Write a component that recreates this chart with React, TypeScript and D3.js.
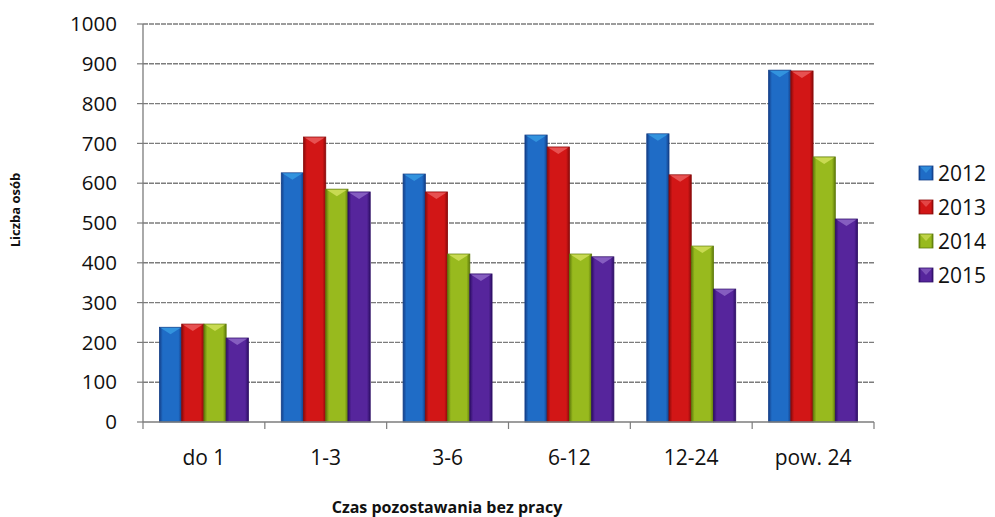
import React from "react";
import * as d3 from "d3";

const categories = ["do 1", "1-3", "3-6", "6-12", "12-24", "pow. 24"];
const seriesNames = ["2012", "2013", "2014", "2015"];
const s2012 = [238, 626, 623, 721, 724, 884];
const s2013 = [246, 716, 578, 691, 621, 882];
const s2014 = [246, 585, 422, 422, 442, 666];
const s2015 = [211, 578, 372, 415, 334, 510];
const yTicks = [0, 100, 200, 300, 400, 500, 600, 700, 800, 900, 1000];

const seriesValues = [s2012, s2013, s2014, s2015];
const baseColors = ["#1f6cc6", "#d21616", "#98ba1e", "#56259c"];
const lightColors = ["#3aa0e6", "#ee6666", "#d8e464", "#9670cc"];
const darkColors = ["#143f88", "#8a0a0a", "#5e7a0a", "#2e0f66"];

const W = 995;
const H = 517;
const left = 143;
const right = 874;
const top = 24;
const bottom = 422;
const FONT = "'Open Sans', 'DejaVu Sans', sans-serif";

export default function App() {
  const x0 = d3.scaleBand<string>().domain(categories).range([left, right]).paddingInner(0.27).paddingOuter(0.135);
  const x1 = d3.scaleBand<string>().domain(seriesNames).range([0, x0.bandwidth()]).padding(0);
  const y = d3.scaleLinear().domain([0, 1000]).range([bottom, top]);
  const step = x0.step();

  return (
    <svg width={W} height={H} style={{ position: "absolute", left: 0, top: 0, background: "#fff" }} fontFamily={FONT}>
      <defs>
        {seriesNames.map((s, i) => (
          <linearGradient key={s} id={`g${i}`} x1="0" x2="1" y1="0" y2="0">
            <stop offset="0" stopColor={darkColors[i]} />
            <stop offset="0.15" stopColor={baseColors[i]} />
            <stop offset="0.5" stopColor={baseColors[i]} />
            <stop offset="0.85" stopColor={baseColors[i]} />
            <stop offset="1" stopColor={darkColors[i]} />
          </linearGradient>
        ))}
      </defs>
      <rect width={W} height={H} fill="#fff" />
      {yTicks.filter((t) => t > 0).map((t) => (
        <line key={t} x1={left} x2={right} y1={y(t)} y2={y(t)} stroke="#7c7c7c" strokeWidth={1.4} strokeDasharray="5,1" />
      ))}
      <line x1={left} x2={left} y1={top} y2={bottom} stroke="#7c7c7c" strokeWidth={1.3} />
      {yTicks.map((t) => (
        <g key={t}>
          <line x1={left - 6} x2={left} y1={y(t)} y2={y(t)} stroke="#7c7c7c" strokeWidth={1.2} />
          <text x={117} y={y(t)} dy="0.35em" textAnchor="end" fontSize={20.5} fill="#111">{t}</text>
        </g>
      ))}
      {categories.map((c, ci) => (
        <g key={c} transform={`translate(${x0(c)},0)`}>
          {seriesNames.map((s, si) => {
            const v = seriesValues[si][ci];
            const bx = x1(s) as number;
            const bw = x1.bandwidth();
            const by = y(v);
            const bh = bottom - by;
            return (
              <g key={s}>
                <rect x={bx} y={by} width={bw} height={bh} fill={`url(#g${si})`} stroke={darkColors[si]} strokeWidth={0.8} />
                <path d={`M${bx + 1},${by + 0.5}L${bx + bw - 1},${by + 0.5}L${bx + bw / 2},${by + 7}Z`} fill={lightColors[si]} opacity={0.75} />
              </g>
            );
          })}
        </g>
      ))}
      <line x1={left} x2={right} y1={bottom} y2={bottom} stroke="#7c7c7c" strokeWidth={1.3} />
      {d3.range(categories.length + 1).map((i) => (
        <line key={i} x1={left + i * step} x2={left + i * step} y1={bottom} y2={bottom + 7} stroke="#7c7c7c" strokeWidth={1.2} />
      ))}
      {categories.map((c) => (
        <text key={c} x={(x0(c) as number) + x0.bandwidth() / 2} y={465} textAnchor="middle" fontSize={21} fill="#111">{c}</text>
      ))}
      <text x={447} y={513} textAnchor="middle" fontSize={16} fontWeight="bold" fill="#111">Czas pozostawania bez pracy</text>
      <text transform={`translate(20,210) rotate(-90)`} textAnchor="middle" fontSize={13} fontWeight="bold" fill="#111">Liczba osób</text>
      {seriesNames.map((s, i) => {
        const ly = 173 + i * 34;
        return (
          <g key={s}>
            <rect x={919} y={ly - 7} width={14} height={14} fill={`url(#g${i})`} stroke={darkColors[i]} strokeWidth={0.8} />
            <path d={`M920,${ly - 6.5}L932,${ly - 6.5}L926,${ly}Z`} fill={lightColors[i]} opacity={0.6} />
            <text x={938} y={ly} dy="0.36em" fontSize={21} fill="#111">{s}</text>
          </g>
        );
      })}
    </svg>
  );
}
